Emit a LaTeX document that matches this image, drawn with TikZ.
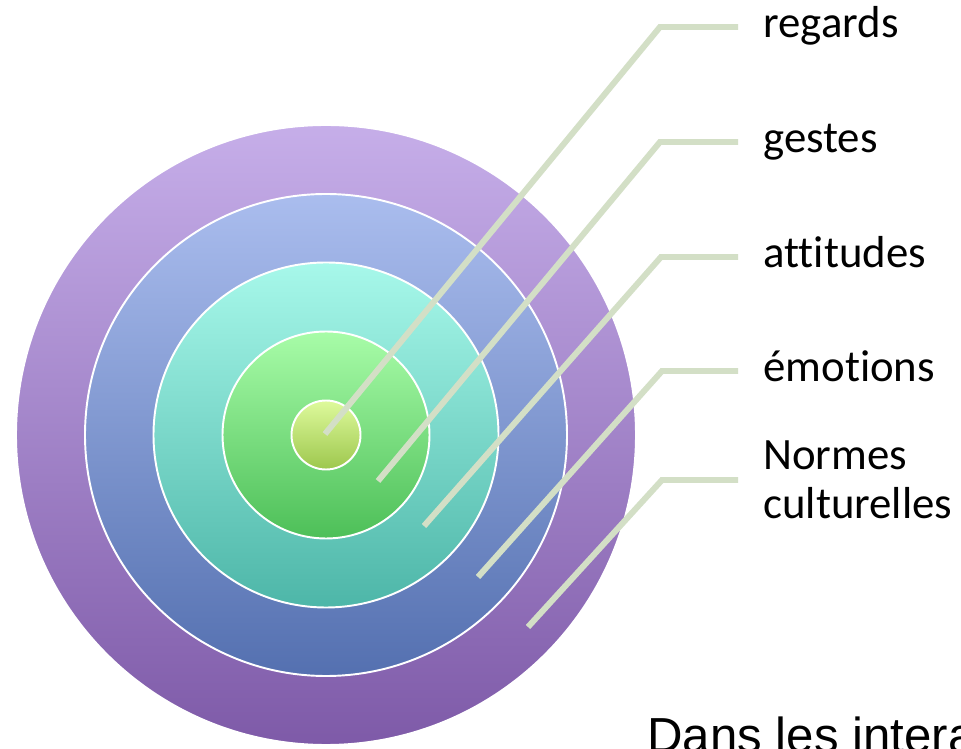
\documentclass[tikz,border=0pt]{standalone}
\usepackage{fontspec}
\setmainfont{Carlito}[Ligatures=NoCommon]
\newfontfamily\arialfont{Liberation Sans}
\usetikzlibrary{positioning}

\definecolor{ringAtop}{HTML}{C6AEE9}
\definecolor{ringAbot}{HTML}{7E5AA8}
\definecolor{ringBtop}{HTML}{AABDEE}
\definecolor{ringBbot}{HTML}{5470B0}
\definecolor{ringCtop}{HTML}{A7F8EA}
\definecolor{ringCbot}{HTML}{4DB6A8}
\definecolor{ringDtop}{HTML}{A8FCA8}
\definecolor{ringDbot}{HTML}{4DBF58}
\definecolor{ringEtop}{HTML}{DEFA9C}
\definecolor{ringEbot}{HTML}{9DC74D}
\definecolor{leadgreen}{HTML}{D3DFC6}

\begin{document}
\begin{tikzpicture}[x=0.02cm, y=-0.02cm,
    ring/.style={draw=white, line width=1.1pt},
    leader/.style={draw=leadgreen, line width=3.4pt},
    lbl/.style={anchor=west, inner xsep=0.5cm, inner ysep=0pt,
      font=\fontsize{25.5}{28}\selectfont},
    oneline/.style={lbl, text height=19pt, text depth=6.5pt}]
  \clip (0,0) rectangle (961,749);
  \fill[white] (0,0) rectangle (961,749);

  % the target, outer ring first
  \draw[ring, top color=ringAtop, bottom color=ringAbot] (326,435) circle[radius=310];
  \draw[ring, top color=ringBtop, bottom color=ringBbot] (326,435) circle[radius=241];
  \draw[ring, top color=ringCtop, bottom color=ringCbot] (326,435) circle[radius=172.5];
  \draw[ring, top color=ringDtop, bottom color=ringDbot] (326,435) circle[radius=103.5];
  \draw[ring, top color=ringEtop, bottom color=ringEbot] (326,435) circle[radius=34.5];

  % labels
  \node[oneline] (regards) at (738,27) {regards};
  \node[oneline] (gestes) at (738,142) {gestes};
  \node[oneline] (attitudes) at (738,257) {attitudes};
  \node[oneline] (emotions) at (738,371) {émotions};
  \node[lbl, align=left] (normes) at (738,480) {Normes\\culturelles};

  % where each leader starts
  \coordinate (p1) at (325,434);
  \coordinate (p2) at (378,481);
  \coordinate (p3) at (424,526);
  \coordinate (p4) at (478,577);
  \coordinate (p5) at (528,627);

  % bends
  \coordinate (k1) at (660,27);
  \coordinate (k2) at (660,142);
  \coordinate (k3) at (661,257);
  \coordinate (k4) at (662,371);
  \coordinate (k5) at (662,480);

  \draw[leader] (p1) -- (k1) -- (regards.west);
  \draw[leader] (p2) -- (k2) -- (gestes.west);
  \draw[leader] (p3) -- (k3) -- (attitudes.west);
  \draw[leader] (p4) -- (k4) -- (emotions.west);
  \draw[leader] (p5) -- (k5) -- (normes.west);

  \node[anchor=base west, inner sep=0pt, font=\arialfont\fontsize{28}{31}\selectfont]
    (dans) at (647,753) {Dans les intera};
\end{tikzpicture}
\end{document}
